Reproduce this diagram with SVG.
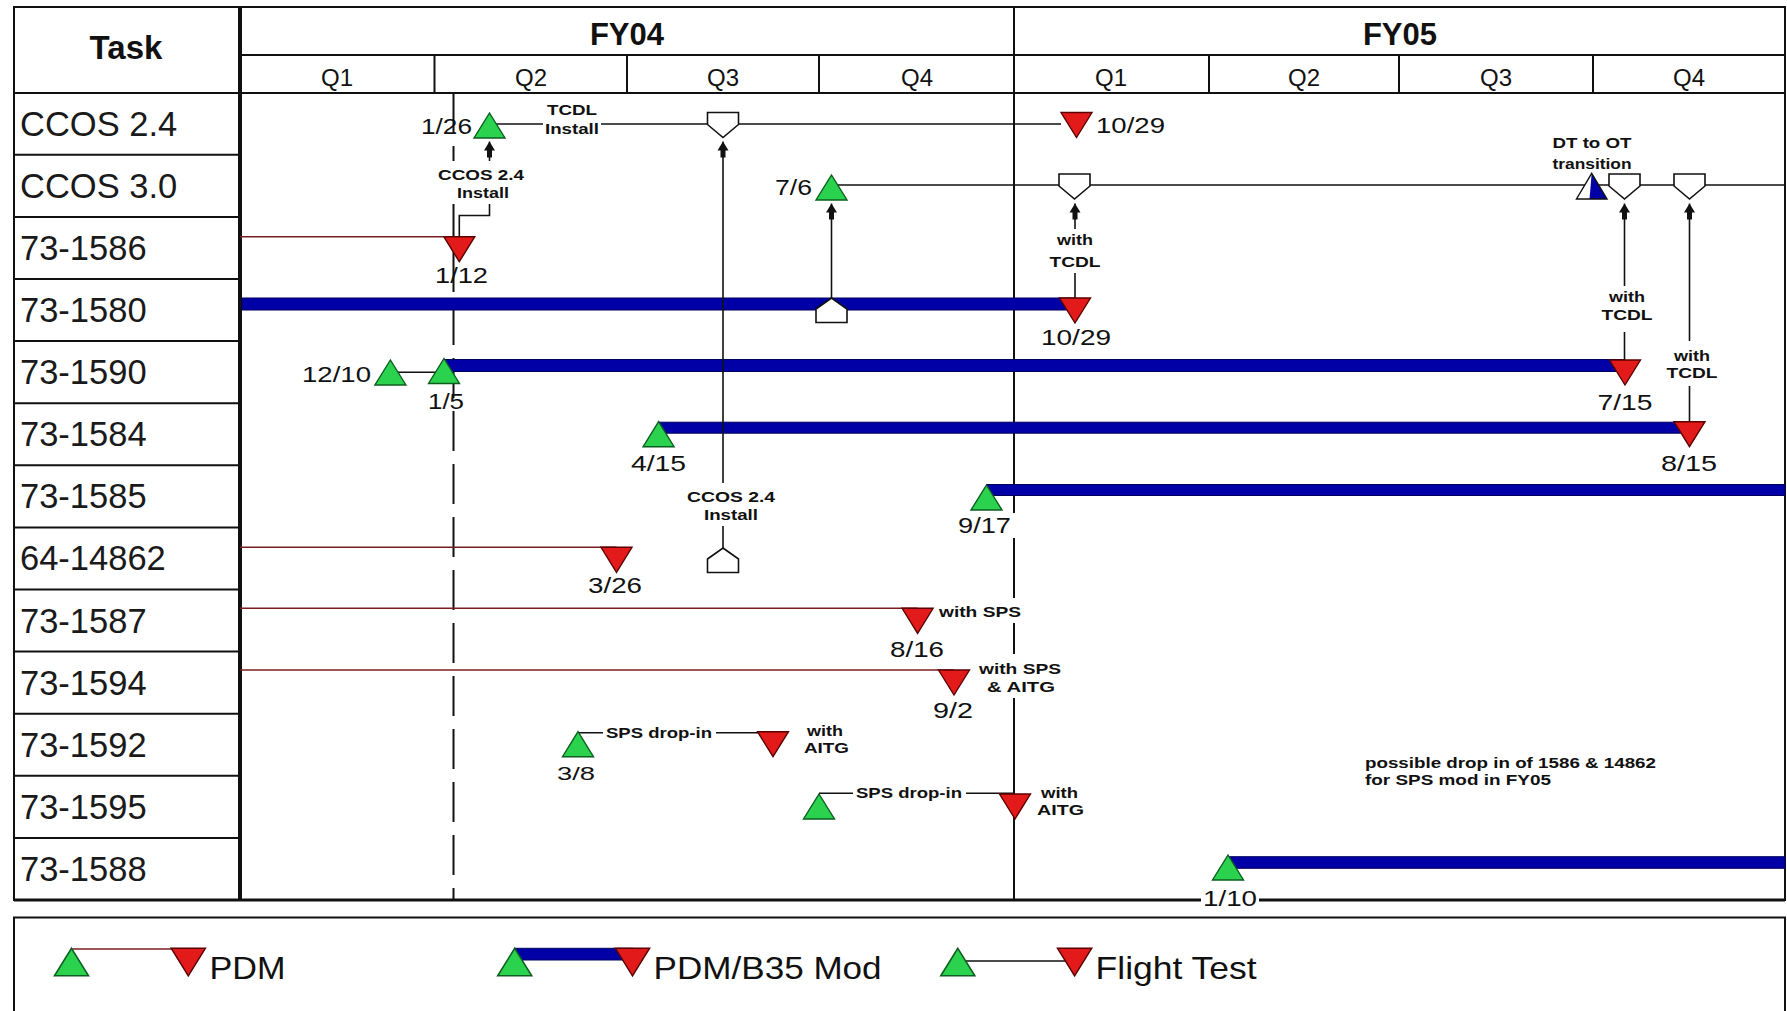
<svg xmlns="http://www.w3.org/2000/svg" width="1787" height="1011" viewBox="0 0 1787 1011">
<style>
text{font-family:"Liberation Sans",Arial,sans-serif;fill:#111}
.task{font-size:34.5px;fill:#1a1a1a}
.hd{font-size:33px;font-weight:bold;text-anchor:middle}
.fy{font-size:31px;font-weight:bold;text-anchor:middle}
.q{font-size:24px;text-anchor:middle}
.dt{font-size:22px}
.sm{font-size:15px;font-weight:bold}
.c{text-anchor:middle}
.e{text-anchor:end}
.lg{font-size:32px}
.grid{stroke:#111;stroke-width:2;fill:none}
.thick{stroke:#111;stroke-width:4}
.dash{stroke:#111;stroke-width:2;stroke-dasharray:40 13}
.k{stroke:#111;stroke-width:1.6;fill:none}
.p{stroke:#7a1f1f;stroke-width:1.6;fill:none}
.b{fill:#0000a6;stroke:#00005c;stroke-width:1}
.g{fill:#2ad24e;stroke:#0b5e1f;stroke-width:1.4}
.r{fill:#e21a1a;stroke:#5c0000;stroke-width:1.4}
.h{fill:#fff;stroke:#111;stroke-width:1.6}
.bg{fill:#fff}
</style>
<defs>
<path id="tu" class="g" d="M0,0 L15.5,25 L-15.5,25 Z"/>
<path id="td" class="r" d="M-15.5,0 L15.5,0 L0,25 Z"/>
<path id="pent" class="h" d="M-15.5,0 H15.5 V12 L0,25 L-15.5,12 Z"/>
<path id="house" class="h" d="M0,0 L15.5,11 V24.5 H-15.5 V11 Z"/>
<marker id="arr" viewBox="0 0 16 12" refX="16" refY="6" markerWidth="16" markerHeight="12" markerUnits="userSpaceOnUse" orient="auto">
<path d="M16,6 L7,0.5 L7,3.5 L0,3.5 L0,8.5 L7,8.5 L7,11.5 Z" fill="#111"/>
</marker>
</defs>
<rect width="1787" height="1011" fill="#fff"/>

<g id="grid">
<rect x="14" y="7" width="1771" height="893" class="grid"/>
<line x1="240" y1="55" x2="1785" y2="55" class="grid"/>
<line x1="14" y1="93" x2="1785" y2="93" class="grid"/>
<line x1="434.5" y1="55" x2="434.5" y2="93" class="grid"/>
<line x1="627" y1="55" x2="627" y2="93" class="grid"/>
<line x1="819" y1="55" x2="819" y2="93" class="grid"/>
<line x1="1209" y1="55" x2="1209" y2="93" class="grid"/>
<line x1="1399" y1="55" x2="1399" y2="93" class="grid"/>
<line x1="1593" y1="55" x2="1593" y2="93" class="grid"/>
<line x1="1014" y1="7" x2="1014" y2="900" class="grid"/>
<line x1="14" y1="154.8" x2="240" y2="154.8" class="grid"/>
<line x1="14" y1="216.9" x2="240" y2="216.9" class="grid"/>
<line x1="14" y1="279" x2="240" y2="279" class="grid"/>
<line x1="14" y1="341.1" x2="240" y2="341.1" class="grid"/>
<line x1="14" y1="403.2" x2="240" y2="403.2" class="grid"/>
<line x1="14" y1="465.3" x2="240" y2="465.3" class="grid"/>
<line x1="14" y1="527.4" x2="240" y2="527.4" class="grid"/>
<line x1="14" y1="589.5" x2="240" y2="589.5" class="grid"/>
<line x1="14" y1="651.6" x2="240" y2="651.6" class="grid"/>
<line x1="14" y1="713.7" x2="240" y2="713.7" class="grid"/>
<line x1="14" y1="775.8" x2="240" y2="775.8" class="grid"/>
<line x1="14" y1="837.9" x2="240" y2="837.9" class="grid"/>
<line x1="14" y1="900" x2="1785" y2="900" stroke="#111" stroke-width="3"/>
<line x1="240" y1="7" x2="240" y2="900" class="thick"/>
<line x1="453.5" y1="93" x2="453.5" y2="900" class="dash"/>
</g>

<g id="header">
<text x="126" y="59" class="hd">Task</text>
<text x="627" y="45" class="fy">FY04</text>
<text x="1400" y="45" class="fy">FY05</text>
<text x="337" y="86" class="q">Q1</text>
<text x="531" y="86" class="q">Q2</text>
<text x="723" y="86" class="q">Q3</text>
<text x="917" y="86" class="q">Q4</text>
<text x="1111" y="86" class="q">Q1</text>
<text x="1304" y="86" class="q">Q2</text>
<text x="1496" y="86" class="q">Q3</text>
<text x="1689" y="86" class="q">Q4</text>
</g>

<g id="task-ccos24"><text x="20" y="135.7" class="task">CCOS 2.4</text></g>
<g id="task-ccos30"><text x="20" y="197.8" class="task">CCOS 3.0</text></g>
<g id="task-73-1586"><text x="20" y="260" class="task">73-1586</text></g>
<g id="task-73-1580"><text x="20" y="322" class="task">73-1580</text></g>
<g id="task-73-1590"><text x="20" y="384.2" class="task">73-1590</text></g>
<g id="task-73-1584"><text x="20" y="446.2" class="task">73-1584</text></g>
<g id="task-73-1585"><text x="20" y="508.4" class="task">73-1585</text></g>
<g id="task-64-14862"><text x="20" y="570.4" class="task">64-14862</text></g>
<g id="task-73-1587"><text x="20" y="632.6" class="task">73-1587</text></g>
<g id="task-73-1594"><text x="20" y="694.6" class="task">73-1594</text></g>
<g id="task-73-1592"><text x="20" y="756.8" class="task">73-1592</text></g>
<g id="task-73-1595"><text x="20" y="818.8" class="task">73-1595</text></g>
<g id="task-73-1588"><text x="20" y="881" class="task">73-1588</text></g>

<g id="connectors">
<path class="k" d="M489.5,124 H1061"/>
<path class="k" d="M831.5,185 H1785"/>
<path class="k" d="M390,372.3 H444"/>
<path class="k" d="M578,732.7 H773"/>
<path class="k" d="M819,793.3 H1015"/>
<path class="p" d="M240,236.7 H459.3"/>
<path class="p" d="M240,547.3 H616.5"/>
<path class="p" d="M240,608.3 H917.6"/>
<path class="p" d="M240,670 H954"/>
<rect class="b" x="242" y="298" width="833" height="12"/>
<rect class="b" x="444" y="359.5" width="1181" height="12"/>
<rect class="b" x="658.6" y="422.2" width="1031" height="11"/>
<rect class="b" x="986.5" y="484.5" width="798.5" height="11"/>
<rect class="b" x="1228" y="856.7" width="557" height="11.6"/>
<path class="k" d="M459.3,237 V215.5 H489.5 V141.5" marker-end="url(#arr)"/>
<path class="k" d="M723,548 V141.5" marker-end="url(#arr)"/>
<path class="k" d="M831.5,298 V203.5" marker-end="url(#arr)"/>
<path class="k" d="M1075,298 V203.5" marker-end="url(#arr)"/>
<path class="k" d="M1624.5,360 V203.5" marker-end="url(#arr)"/>
<path class="k" d="M1689.5,421.7 V203.5" marker-end="url(#arr)"/>
</g>

<g id="m-ccos24-start"><use href="#tu" x="489.5" y="113"/><text x="472" y="134" class="dt e" textLength="51" lengthAdjust="spacingAndGlyphs">1/26</text></g>
<g id="lbl-tcdl-install"><rect class="bg" x="543" y="100" width="58" height="37"/><text x="572" y="115" class="sm c" textLength="50" lengthAdjust="spacingAndGlyphs">TCDL</text><text x="572" y="134" class="sm c" textLength="54" lengthAdjust="spacingAndGlyphs">Install</text></g>
<g id="m-ccos24-pent"><use href="#pent" x="723" y="112.5"/></g>
<g id="m-ccos24-end"><use href="#td" x="1076.5" y="112.5"/><text x="1096" y="133" class="dt" textLength="69" lengthAdjust="spacingAndGlyphs">10/29</text></g>

<g id="m-ccos30-start"><use href="#tu" x="831.5" y="175"/><text x="775" y="195" class="dt" textLength="37" lengthAdjust="spacingAndGlyphs">7/6</text></g>
<g id="m-ccos30-pent1"><use href="#pent" x="1074.5" y="174"/></g>
<g id="m-ccos30-dt">
<path d="M1591.7,173.3 L1607,199 L1576.5,199 Z" fill="#fff"/>
<path d="M1591.7,173.3 L1607,199 L1589.5,199 Z" fill="#0000a6"/>
<path d="M1591.7,173.3 L1607,199 L1576.5,199 Z" fill="none" stroke="#111" stroke-width="1.4"/>
<text x="1592" y="148" class="sm c" textLength="79" lengthAdjust="spacingAndGlyphs">DT to OT</text>
<text x="1592" y="169" class="sm c" textLength="79" lengthAdjust="spacingAndGlyphs">transition</text>
</g>
<g id="m-ccos30-pent2"><use href="#pent" x="1624.5" y="174"/></g>
<g id="m-ccos30-pent3"><use href="#pent" x="1689.5" y="174"/></g>

<g id="m-1586-end"><use href="#td" x="459.3" y="236.7"/><text x="461.5" y="283" class="dt c" textLength="53" lengthAdjust="spacingAndGlyphs">1/12</text></g>
<g id="lbl-ccos24-install-a"><rect class="bg" x="436" y="161" width="91" height="43"/><text x="481" y="180" class="sm c" textLength="86" lengthAdjust="spacingAndGlyphs">CCOS 2.4</text><text x="483" y="198" class="sm c" textLength="52" lengthAdjust="spacingAndGlyphs">Install</text></g>

<g id="m-1580-house"><use href="#house" x="831.5" y="298"/></g>
<g id="m-1580-end"><use href="#td" x="1075" y="298"/><text x="1076" y="345" class="dt c" textLength="70" lengthAdjust="spacingAndGlyphs">10/29</text></g>
<g id="lbl-with-tcdl-a"><rect class="bg" x="1046" y="229" width="58" height="44"/><text x="1075" y="245" class="sm c" textLength="36" lengthAdjust="spacingAndGlyphs">with</text><text x="1075" y="267" class="sm c" textLength="51" lengthAdjust="spacingAndGlyphs">TCDL</text></g>

<g id="m-1590-a"><use href="#tu" x="390.4" y="360"/><text x="302" y="382" class="dt" textLength="69" lengthAdjust="spacingAndGlyphs">12/10</text></g>
<g id="m-1590-b"><use href="#tu" x="444" y="358.5"/><text x="446" y="409" class="dt c" textLength="36" lengthAdjust="spacingAndGlyphs">1/5</text></g>
<g id="m-1590-end"><use href="#td" x="1625" y="360"/><text x="1625" y="410" class="dt c" textLength="55" lengthAdjust="spacingAndGlyphs">7/15</text></g>
<g id="lbl-with-tcdl-b"><rect class="bg" x="1599" y="286" width="57" height="46"/><text x="1627" y="302" class="sm c" textLength="36" lengthAdjust="spacingAndGlyphs">with</text><text x="1627" y="320" class="sm c" textLength="51" lengthAdjust="spacingAndGlyphs">TCDL</text></g>

<g id="m-1584-start"><use href="#tu" x="658.6" y="421.7"/><text x="658.5" y="471" class="dt c" textLength="55" lengthAdjust="spacingAndGlyphs">4/15</text></g>
<g id="m-1584-end"><use href="#td" x="1689.5" y="421.7"/><text x="1689" y="471" class="dt c" textLength="56" lengthAdjust="spacingAndGlyphs">8/15</text></g>
<g id="lbl-with-tcdl-c"><rect class="bg" x="1664" y="341" width="56" height="45"/><text x="1692" y="361" class="sm c" textLength="36" lengthAdjust="spacingAndGlyphs">with</text><text x="1692" y="378" class="sm c" textLength="51" lengthAdjust="spacingAndGlyphs">TCDL</text></g>

<g id="m-1585-start"><use href="#tu" x="986.5" y="485"/><rect class="bg" x="955" y="513" width="62" height="25"/><text x="984.5" y="533" class="dt c" textLength="53" lengthAdjust="spacingAndGlyphs">9/17</text></g>
<g id="lbl-ccos24-install-b"><rect class="bg" x="686" y="483" width="91" height="43"/><text x="731" y="502" class="sm c" textLength="88" lengthAdjust="spacingAndGlyphs">CCOS 2.4</text><text x="731" y="520" class="sm c" textLength="54" lengthAdjust="spacingAndGlyphs">Install</text></g>

<g id="m-14862-house"><use href="#house" x="723" y="548"/></g>
<g id="m-14862-end"><use href="#td" x="616.5" y="547.3"/><text x="615" y="593" class="dt c" textLength="54" lengthAdjust="spacingAndGlyphs">3/26</text></g>

<g id="m-1587-end"><use href="#td" x="917.6" y="608.3"/><text x="917" y="656.7" class="dt c" textLength="54" lengthAdjust="spacingAndGlyphs">8/16</text><rect class="bg" x="937" y="598" width="87" height="25"/><text x="939" y="616.5" class="sm" textLength="82" lengthAdjust="spacingAndGlyphs">with SPS</text></g>

<g id="m-1594-end"><use href="#td" x="954" y="670"/><text x="953" y="718" class="dt c" textLength="40" lengthAdjust="spacingAndGlyphs">9/2</text><rect class="bg" x="976" y="654" width="88" height="44"/><text x="979" y="674" class="sm" textLength="82" lengthAdjust="spacingAndGlyphs">with SPS</text><text x="987" y="691.5" class="sm" textLength="68" lengthAdjust="spacingAndGlyphs">&amp; AITG</text></g>

<g id="m-1592-start"><use href="#tu" x="578" y="731.7"/><text x="576" y="780" class="dt c" style="font-size:19px" textLength="38" lengthAdjust="spacingAndGlyphs">3/8</text></g>
<g id="lbl-sps-dropin-a"><rect class="bg" x="603" y="724" width="113" height="18"/><text x="606" y="737.5" class="sm" textLength="106" lengthAdjust="spacingAndGlyphs">SPS drop-in</text></g>
<g id="m-1592-end"><use href="#td" x="773" y="731.7"/><text x="807" y="736" class="sm" textLength="36" lengthAdjust="spacingAndGlyphs">with</text><text x="804" y="753" class="sm" textLength="45" lengthAdjust="spacingAndGlyphs">AITG</text></g>

<g id="m-1595-start"><use href="#tu" x="819" y="794"/></g>
<g id="lbl-sps-dropin-b"><rect class="bg" x="853" y="784" width="113" height="18"/><text x="856" y="797.5" class="sm" textLength="106" lengthAdjust="spacingAndGlyphs">SPS drop-in</text></g>
<g id="m-1595-end"><use href="#td" x="1015" y="794"/><text x="1041" y="797.5" class="sm" textLength="37" lengthAdjust="spacingAndGlyphs">with</text><text x="1037" y="815" class="sm" textLength="47" lengthAdjust="spacingAndGlyphs">AITG</text></g>

<g id="m-1588-start"><use href="#tu" x="1228" y="855"/><rect class="bg" x="1201" y="889" width="58" height="18"/><text x="1230" y="906" class="dt c" textLength="54" lengthAdjust="spacingAndGlyphs">1/10</text></g>

<g id="note"><text x="1365" y="767.5" class="sm" textLength="291" lengthAdjust="spacingAndGlyphs">possible drop in of 1586 &amp; 14862</text><text x="1365" y="785" class="sm" textLength="186" lengthAdjust="spacingAndGlyphs">for SPS mod in FY05</text></g>

<g id="legend">
<rect x="14" y="917.5" width="1771" height="110" class="grid"/>
<path class="p" d="M72,949 H188"/>
<use href="#tu" transform="translate(71.5,948.3) scale(1.1)"/>
<use href="#td" transform="translate(188.3,948.3) scale(1.1)"/>
<text x="209.5" y="978.5" class="lg" textLength="76" lengthAdjust="spacingAndGlyphs">PDM</text>
<rect class="b" x="514.7" y="948.3" width="118" height="11.7"/>
<use href="#tu" transform="translate(514.7,948.3) scale(1.1)"/>
<use href="#td" transform="translate(632.5,948.3) scale(1.1)"/>
<text x="653.6" y="978.5" class="lg" textLength="228" lengthAdjust="spacingAndGlyphs">PDM/B35 Mod</text>
<path class="k" d="M957.8,961 H1074.6"/>
<use href="#tu" transform="translate(957.8,948.3) scale(1.1)"/>
<use href="#td" transform="translate(1074.6,948.3) scale(1.1)"/>
<text x="1095.6" y="978.5" class="lg" textLength="161" lengthAdjust="spacingAndGlyphs">Flight Test</text>
</g>
</svg>
